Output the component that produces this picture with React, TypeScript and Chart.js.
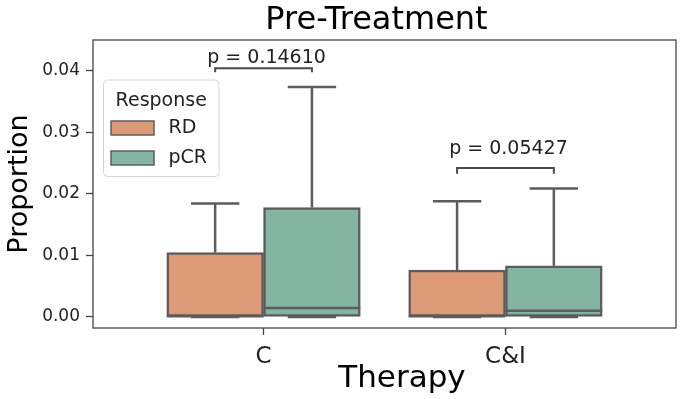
import React, { useEffect, useRef } from 'react';
import { Chart, registerables } from 'chart.js';

Chart.register(...registerables);

// ---- data ----
const categories = ['C', 'C&I'];
const hues = ['RD', 'pCR'];
const rdMin = [0, 0];
const rdQ1 = [0, 0];
const rdMedian = [0.0001, 0.0001];
const rdQ3 = [0.01046, 0.0076];
const rdMax = [0.01843, 0.01881];
const pcrMin = [0, 0];
const pcrQ1 = [0, 0];
const pcrMedian = [0.00145, 0.001];
const pcrQ3 = [0.01777, 0.0083];
const pcrMax = [0.03735, 0.02086];
const yTicks = [0, 0.01, 0.02, 0.03, 0.04];
const pLabels = ['p = 0.14610', 'p = 0.05427'];
const bracketTop = [0.0404, 0.0242];
const bracketBottom = [0.03975, 0.02325];
const pTextY = [0.04125, 0.02646];
const titleText = 'Pre-Treatment';
const xTitleText = 'Therapy';
const yTitleText = 'Proportion';
const legendTitle = 'Response';

// ---- styles ----
const hueColors = ['#dc9a77', '#84b4a2'];
const edgeColor = '#5c5c5c';
const boxWidth = 0.4;
const FONT = "'DejaVu Sans', sans-serif";

const series = [
  { min: rdMin, q1: rdQ1, med: rdMedian, q3: rdQ3, max: rdMax },
  { min: pcrMin, q1: pcrQ1, med: pcrMedian, q3: pcrQ3, max: pcrMax },
];

const boxPlugin = {
  id: 'boxExtras',
  afterDatasetsDraw(chart: any) {
    const { ctx, scales } = chart;
    const x = scales.x;
    const y = scales.y;
    ctx.save();
    ctx.strokeStyle = edgeColor;
    ctx.lineWidth = 2.5;
    ctx.lineCap = 'butt';
    const line = (x1: number, y1: number, x2: number, y2: number) => {
      ctx.beginPath();
      ctx.moveTo(x1, y1);
      ctx.lineTo(x2, y2);
      ctx.stroke();
    };
    series.forEach((s, h) => {
      categories.forEach((_, i) => {
        const c = i + (h - 0.5) * boxWidth;
        const xc = x.getPixelForValue(c);
        const xl = x.getPixelForValue(c - boxWidth / 2);
        const xr = x.getPixelForValue(c + boxWidth / 2);
        const cl = x.getPixelForValue(c - boxWidth / 4);
        const cr = x.getPixelForValue(c + boxWidth / 4);
        line(xc, y.getPixelForValue(s.q3[i]), xc, y.getPixelForValue(s.max[i]));
        line(xc, y.getPixelForValue(s.q1[i]), xc, y.getPixelForValue(s.min[i]));
        line(cl, y.getPixelForValue(s.max[i]), cr, y.getPixelForValue(s.max[i]));
        line(cl, y.getPixelForValue(s.min[i]), cr, y.getPixelForValue(s.min[i]));
        line(xl, y.getPixelForValue(s.med[i]), xr, y.getPixelForValue(s.med[i]));
      });
    });

    // significance brackets
    ctx.strokeStyle = '#4a4a4a';
    ctx.lineWidth = 2;
    ctx.fillStyle = '#222';
    ctx.font = `19px ${FONT}`;
    ctx.textAlign = 'center';
    ctx.textBaseline = 'alphabetic';
    categories.forEach((_, i) => {
      const x1 = x.getPixelForValue(i - boxWidth / 2);
      const x2 = x.getPixelForValue(i + boxWidth / 2);
      const yt = y.getPixelForValue(bracketTop[i]);
      const yb = y.getPixelForValue(bracketBottom[i]);
      ctx.beginPath();
      ctx.moveTo(x1, yb);
      ctx.lineTo(x1, yt);
      ctx.lineTo(x2, yt);
      ctx.lineTo(x2, yb);
      ctx.stroke();
      ctx.fillText(pLabels[i], (x1 + x2) / 2 + 3, y.getPixelForValue(pTextY[i]));
    });
    ctx.restore();
  },
  afterDraw(chart: any) {
    const { ctx, chartArea } = chart;
    const mid = (chartArea.left + chartArea.right) / 2;
    ctx.save();
    // frame
    ctx.strokeStyle = '#444';
    ctx.lineWidth = 1.3;
    ctx.strokeRect(chartArea.left, chartArea.top, chartArea.right - chartArea.left, chartArea.bottom - chartArea.top);

    // title and x-axis title
    ctx.fillStyle = '#000';
    ctx.textAlign = 'center';
    ctx.textBaseline = 'alphabetic';
    ctx.font = `32px ${FONT}`;
    ctx.fillText(titleText, mid - 8, chartArea.top - 10.7);
    ctx.font = `31px ${FONT}`;
    ctx.fillText(xTitleText, mid + 17.5, chartArea.bottom + 58.7);

    // legend
    const lx = chartArea.left + 10.5;
    const ly = chartArea.top + 40;
    const lw = 115.5;
    const lh = 96.5;
    ctx.beginPath();
    ctx.roundRect(lx, ly, lw, lh, 4);
    ctx.fillStyle = 'rgba(255,255,255,0.8)';
    ctx.fill();
    ctx.strokeStyle = '#d6d6d6';
    ctx.lineWidth = 1;
    ctx.stroke();
    ctx.fillStyle = '#222';
    ctx.font = `19px ${FONT}`;
    ctx.textAlign = 'center';
    ctx.textBaseline = 'alphabetic';
    ctx.fillText(legendTitle, lx + lw / 2, ly + 25.5);
    chart.data.datasets.forEach((ds: any, k: number) => {
      const py = ly + 41 + k * 30;
      ctx.fillStyle = ds.backgroundColor;
      ctx.fillRect(lx + 7.5, py, 43, 14);
      ctx.strokeStyle = edgeColor;
      ctx.lineWidth = 1.5;
      ctx.strokeRect(lx + 7.5, py, 43, 14);
      ctx.fillStyle = '#222';
      ctx.textAlign = 'left';
      ctx.textBaseline = 'middle';
      ctx.fillText(ds.label, lx + 65, py + 7.5);
    });
    ctx.restore();
  },
};

export default function App() {
  const ref = useRef<HTMLCanvasElement>(null);
  useEffect(() => {
    if (!ref.current) return;
    Chart.defaults.font.family = FONT;
    const datasets = series.map((s, h) => ({
      label: hues[h],
      data: categories.map((_, i) => ({ x: i + (h - 0.5) * boxWidth, y: [s.q1[i], s.q3[i]] })),
      backgroundColor: hueColors[h],
      borderColor: edgeColor,
      borderWidth: 2.5,
      borderSkipped: false,
      grouped: false,
      barPercentage: 1,
      categoryPercentage: 1,
    }));
    const chart = new Chart(ref.current, {
      type: 'bar',
      data: { datasets } as any,
      plugins: [boxPlugin],
      options: {
        animation: false,
        responsive: false,
        devicePixelRatio: 1,
        layout: { padding: { left: 0, right: 18, top: 40, bottom: 0 } },
        plugins: {
          legend: { display: false },
          tooltip: { enabled: false },
          title: { display: false },
        },
        scales: {
          x: {
            type: 'linear',
            min: -0.705,
            max: 1.705,
            offset: false,
            afterBuildTicks: (scale: any) => {
              scale.ticks = categories.map((_, i) => ({ value: i }));
            },
            afterFit: (scale: any) => {
              scale.height = 71;
            },
            ticks: {
              autoSkip: false,
              maxRotation: 0,
              padding: 8,
              color: '#222',
              font: { size: 23, family: FONT },
              callback: (v: any) => categories[Math.round(Number(v))] ?? '',
            },
            grid: {
              display: true,
              offset: false,
              drawOnChartArea: false,
              drawTicks: true,
              tickLength: 7,
              tickColor: '#444',
              tickWidth: 1.3,
            },
            border: { display: false },
            title: { display: false },
          },
          y: {
            type: 'linear',
            min: -0.0018,
            max: 0.045,
            afterBuildTicks: (scale: any) => {
              scale.ticks = yTicks.map((v) => ({ value: v }));
            },
            afterFit: (scale: any) => {
              scale.width = 93;
            },
            ticks: {
              padding: 6,
              color: '#222',
              font: { size: 17, family: FONT },
              callback: (v: any) => Number(v).toFixed(2),
            },
            grid: {
              display: true,
              drawOnChartArea: false,
              drawTicks: true,
              tickLength: 7,
              tickColor: '#444',
              tickWidth: 1.3,
            },
            border: { display: false },
            title: {
              display: true,
              text: yTitleText,
              color: '#000',
              font: { size: 27, family: FONT },
              padding: { top: 4, bottom: 0 },
            },
          },
        },
      } as any,
    });
    return () => chart.destroy();
  }, []);
  return (
    <div style={{ position: 'fixed', left: 0, top: 0, width: 694, height: 399, background: '#fff' }}>
      <canvas ref={ref} width={694} height={399} style={{ display: 'block' }} />
    </div>
  );
}
